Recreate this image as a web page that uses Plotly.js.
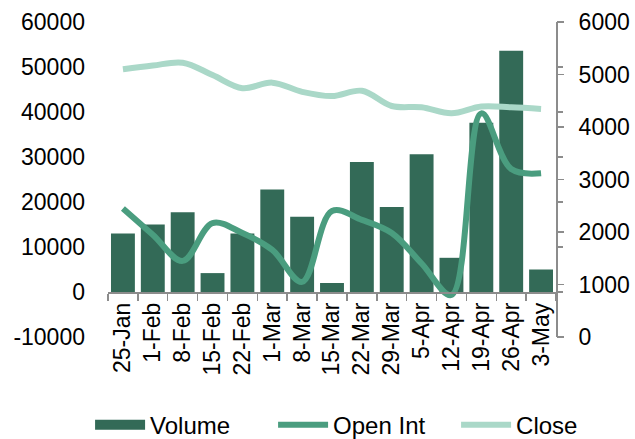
<!DOCTYPE html>
<html>
<head>
<meta charset="utf-8">
<script src="https://cdn.plot.ly/plotly-3.0.1.min.js"></script>
<style>html,body{margin:0;padding:0;background:#fff;}#chart{width:635px;height:439px;}</style>
</head>
<body>
<div id="chart"></div>
<script>
const dates = ["25-Jan","1-Feb","8-Feb","15-Feb","22-Feb","1-Mar","8-Mar","15-Mar","22-Mar","29-Mar","5-Apr","12-Apr","19-Apr","26-Apr","3-May"];
const volume = [13000,15000,17700,4200,13000,22800,16700,2000,28900,18900,30600,7600,37600,53600,5000];
const openInt = [2450,1950,1450,2170,1980,1660,1050,2400,2230,1980,1400,800,4260,3200,3120];
const closePx = [5100,5170,5225,4990,4740,4845,4670,4590,4690,4400,4375,4260,4390,4375,4345];
const leftTicks = [-10000,0,10000,20000,30000,40000,50000,60000];
const leftTickText = ["-10000","0","10000","20000","30000","40000","50000","60000"];
const rightTicks = [0,1000,2000,3000,4000,5000,6000];
const rightTickText = ["0","1000","2000","3000","4000","5000","6000"];

const cVol = "rgb(51,106,87)";
const cOI = "rgb(74,157,127)";
const cClose = "rgb(170,216,200)";
const axisGray = "#8c8c8c";
const FONT = "Liberation Sans, Arial, sans-serif";

const traces = [
  {type:"bar", x:dates, y:volume, name:"Volume", marker:{color:cVol}, yaxis:"y", showlegend:false},
  {type:"scatter", mode:"lines", x:[dates[0]], y:[null], name:"Volume", line:{color:cVol, width:14}, yaxis:"y", showlegend:true, legendrank:1},
  {type:"scatter", mode:"lines", x:dates, y:closePx, name:"Close", line:{color:cClose, width:6, shape:"spline", smoothing:1}, yaxis:"y2", legendrank:3},
  {type:"scatter", mode:"lines", x:dates, y:openInt, name:"Open Int", line:{color:cOI, width:6, shape:"spline", smoothing:1}, yaxis:"y2", legendrank:2},
  {type:"scatter", mode:"lines", x:[dates[0]], y:[null], yaxis:"y3", showlegend:false, hoverinfo:"skip"}
];

const layout = {
  width:635, height:439,
  margin:{l:108, r:79, t:22, b:102, autoexpand:false},
  paper_bgcolor:"#fff", plot_bgcolor:"#fff",
  font:{family:FONT, size:23, color:"#000"},
  bargap:0.2,
  showlegend:true,
  legend:{orientation:"h", x:-0.04, xanchor:"left", y:-0.28, yanchor:"middle",
          font:{family:FONT, size:24}, itemwidth:50, entrywidth:118, entrywidthmode:"pixels", traceorder:"normal"},
  xaxis:{type:"category", anchor:"free", position:1/7, tickangle:-90, automargin:false,
         showline:true, linecolor:axisGray, linewidth:1.5,
         ticks:"outside", tickson:"boundaries", ticklen:7, tickcolor:axisGray, tickwidth:1.5,
         showgrid:false, zeroline:false, tickfont:{family:FONT, size:23}},
  yaxis:{range:[-10000,60000], tickmode:"array", tickvals:leftTicks, ticktext:leftTickText, automargin:false,
         showgrid:false, zeroline:false,
         showline:false, ticks:"", ticklabelstandoff:22, tickfont:{family:FONT, size:23}},
  yaxis2:{range:[0,6000], tickmode:"array", tickvals:rightTicks, ticktext:rightTickText, overlaying:"y", side:"right", anchor:"x",
          automargin:false,
          showgrid:false, zeroline:false, showline:true, linecolor:axisGray, linewidth:2,
          ticks:"outside", ticklen:6, tickcolor:axisGray, tickwidth:1.5, ticklabelstandoff:10,
          tickfont:{family:FONT, size:23}},
  yaxis3:{range:[-10000,60000], tickmode:"array", tickvals:leftTicks, overlaying:"y", side:"right", anchor:"free", position:1,
          automargin:false,
          showgrid:false, zeroline:false, showline:false, showticklabels:false,
          ticks:"outside", ticklen:6, tickcolor:axisGray, tickwidth:1.5}
};

Plotly.newPlot("chart", traces, layout, {displayModeBar:false, staticPlot:true});
</script>
</body>
</html>
